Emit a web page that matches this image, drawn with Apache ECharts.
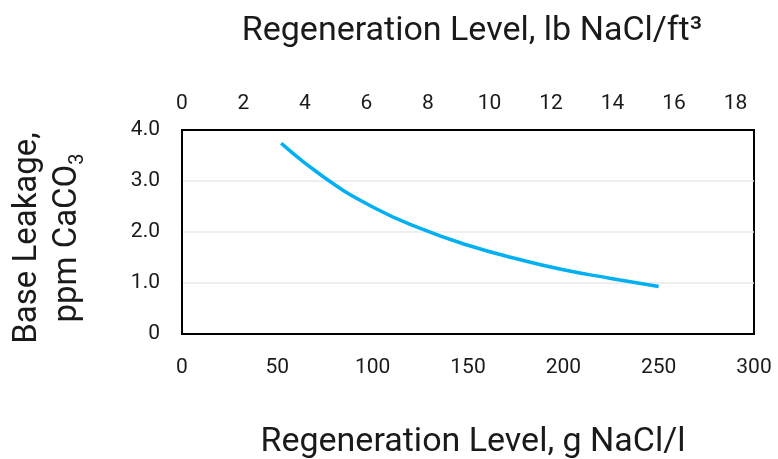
<!DOCTYPE html>
<html><head><meta charset="utf-8">
<script src="https://cdn.jsdelivr.net/npm/echarts@6/dist/echarts.min.js"></script>
<style>html,body{margin:0;padding:0;background:#fff}#c{width:778px;height:459px}</style>
</head><body><div id="c"></div>
<script>
// Data
const regenGramsPerL = [52, 75, 100, 125, 150, 175, 200, 225, 250];
const baseLeakage    = [3.74, 3.06, 2.49, 2.07, 1.74, 1.48, 1.26, 1.09, 0.93];
const bottomTicks = [0, 50, 100, 150, 200, 250, 300];
const topTicks = [0, 2, 4, 6, 8, 10, 12, 14, 16, 18];
const topAxisMax = 18.6;
const yTicks = [0, 1, 2, 3, 4];

const chart = echarts.init(document.getElementById('c'));
const F = 'Roboto, "Noto Sans", sans-serif';
const TXT = '#1a1a1a';
chart.setOption({
  animation: false,
  backgroundColor: '#fff',
  title: [
    {text: 'Regeneration Level, lb NaCl/ft\u00b3', left: 467, top: 9, textAlign: 'center',
     textStyle: {fontFamily: F, fontSize: 34, fontWeight: 'normal', color: TXT}},
    {text: 'Regeneration Level, g NaCl/l', left: 468, top: 420, textAlign: 'center',
     textStyle: {fontFamily: F, fontSize: 34, fontWeight: 'normal', color: TXT}}
  ],
  graphic: [{
    type: 'text', x: 48, y: 238, rotation: Math.PI / 2,
    style: {
      text: '{a|Base Leakage,}\n{a|ppm CaCO}{s|3}',
      align: 'center', verticalAlign: 'middle',
      rich: {
        a: {fontFamily: F, fontSize: 33, fill: TXT, lineHeight: 40},
        s: {fontFamily: F, fontSize: 20, fill: TXT, lineHeight: 40, verticalAlign: 'bottom', padding: [18, 0, 0, 0]}
      }
    }
  }],
  grid: {left: 182, right: 24, top: 130, bottom: 125, show: true, borderColor: '#000', borderWidth: 2, backgroundColor: 'transparent'},
  xAxis: [
    {type: 'value', position: 'bottom', min: bottomTicks[0], max: bottomTicks[bottomTicks.length - 1], interval: 50,
     axisLine: {show: true, onZero: false, lineStyle: {color: '#000', width: 2}}, axisTick: {show: false}, splitLine: {show: false},
     axisLabel: {fontFamily: F, fontSize: 21, color: TXT, margin: 23}},
    {type: 'value', position: 'top', min: topTicks[0], max: topAxisMax, interval: 2,
     axisLine: {show: true, onZero: false, lineStyle: {color: '#000', width: 2}}, axisTick: {show: false}, splitLine: {show: false},
     axisLabel: {fontFamily: F, fontSize: 21, color: TXT, margin: 16, showMaxLabel: false,
       formatter: v => topTicks.includes(Math.round(v)) && Math.abs(v - Math.round(v)) < 1e-6 ? String(Math.round(v)) : ''}}
  ],
  yAxis: {type: 'value', min: yTicks[0], max: yTicks[yTicks.length - 1], interval: 1,
    axisLine: {show: true, onZero: false, lineStyle: {color: '#000', width: 2}}, axisTick: {show: false},
    splitLine: {show: true, lineStyle: {color: '#e8e8e8', width: 1.5}},
    axisLabel: {fontFamily: F, fontSize: 21, color: TXT, margin: 22,
      formatter: v => v === 0 ? '0' : v.toFixed(1)}},
  series: [{
    type: 'line', xAxisIndex: 0, smooth: true, showSymbol: false,
    lineStyle: {color: '#00b0f0', width: 3.5},
    data: regenGramsPerL.map((g, i) => [g, baseLeakage[i]])
  }]
});
</script></body></html>
